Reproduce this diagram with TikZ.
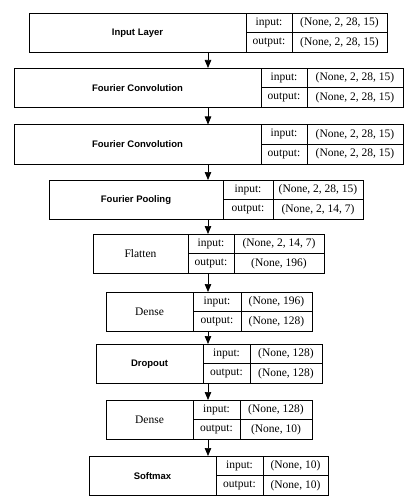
\documentclass[tikz,border=0pt]{standalone}
\usepackage{fontspec}
\setmainfont{Liberation Serif}
\newfontfamily\headsans{Liberation Sans}
\usetikzlibrary{arrows.meta}

\tikzset{
	cell/.style={draw, line width=0.7pt, rectangle, outer sep=0pt, inner sep=0pt, anchor=north west, font=\fontsize{11.5}{13}\selectfont},
	namecell/.style={cell, minimum height=39.5pt},
	halfcell/.style={cell, minimum height=19.75pt},
	flow/.style={-{Triangle[length=8pt,width=6.5pt]}, line width=0.7pt},
}
\newcommand{\sanslabel}[1]{{\headsans\fontsize{9.5}{11}\selectfont\bfseries #1}}

% id, top, left, split 1, split 2, right, name, input shape, output shape
\newcommand{\kbox}[9]{%
	\node[anchor=north west, minimum width={(#6-#3)*1pt}, minimum height=39.5pt, inner sep=0pt, outer sep=0pt] (#1) at (#3,#2) {};
	\node[namecell, minimum width={(#4-#3)*1pt}] (#1name) at (#1.north west) {#7};
	\node[halfcell, minimum width={(#5-#4)*1pt}] (#1inkey) at (#1name.north east) {input:};
	\node[halfcell, minimum width={(#5-#4)*1pt}] (#1outkey) at (#1inkey.south west) {output:};
	\node[halfcell, minimum width={(#6-#5)*1pt}] (#1inval) at (#1inkey.north east) {#8};
	\node[halfcell, minimum width={(#6-#5)*1pt}] (#1outval) at (#1outkey.north east) {#9};
}

\begin{document}
\begin{tikzpicture}[x=1pt, y=-1pt]
	\useasboundingbox (0,0) rectangle (408,500);

	\kbox{input}{13}{29}{246}{292}{387}{\sanslabel{Input Layer}}{(None, 2, 28, 15)}{(None, 2, 28, 15)}
	\kbox{convA}{68}{14}{261}{307}{403}{\sanslabel{Fourier Convolution}}{(None, 2, 28, 15)}{(None, 2, 28, 15)}
	\kbox{convB}{124.5}{14}{261}{307}{403}{\sanslabel{Fourier Convolution}}{(None, 2, 28, 15)}{(None, 2, 28, 15)}
	\kbox{pool}{180}{49}{223}{273}{363}{\sanslabel{Fourier Pooling}}{(None, 2, 28, 15)}{(None, 2, 14, 7)}
	\kbox{flat}{234}{93}{188}{234}{324}{Flatten}{(None, 2, 14, 7)}{(None, 196)}
	\kbox{denseA}{292}{106}{193}{241}{312}{Dense}{(None, 196)}{(None, 128)}
	\kbox{drop}{344}{96}{203}{250}{322}{\sanslabel{Dropout}}{(None, 128)}{(None, 128)}
	\kbox{denseB}{400}{106}{193}{240}{312}{Dense}{(None, 128)}{(None, 10)}
	\kbox{soft}{456}{89}{216}{263}{328}{\sanslabel{Softmax}}{(None, 10)}{(None, 10)}

	% connectors
	\draw [flow] (input.south) -- (input.south |- convA.north);
	\draw [flow] (input.south |- convA.south) -- (input.south |- convB.north);
	\draw [flow] (input.south |- convB.south) -- (input.south |- pool.north);
	\draw [flow] (input.south |- pool.south) -- (input.south |- flat.north);
	\draw [flow] (input.south |- flat.south) -- (input.south |- denseA.north);
	\draw [flow] (input.south |- denseA.south) -- (input.south |- drop.north);
	\draw [flow] (input.south |- drop.south) -- (input.south |- denseB.north);
	\draw [flow] (input.south |- denseB.south) -- (input.south |- soft.north);
\end{tikzpicture}
\end{document}
